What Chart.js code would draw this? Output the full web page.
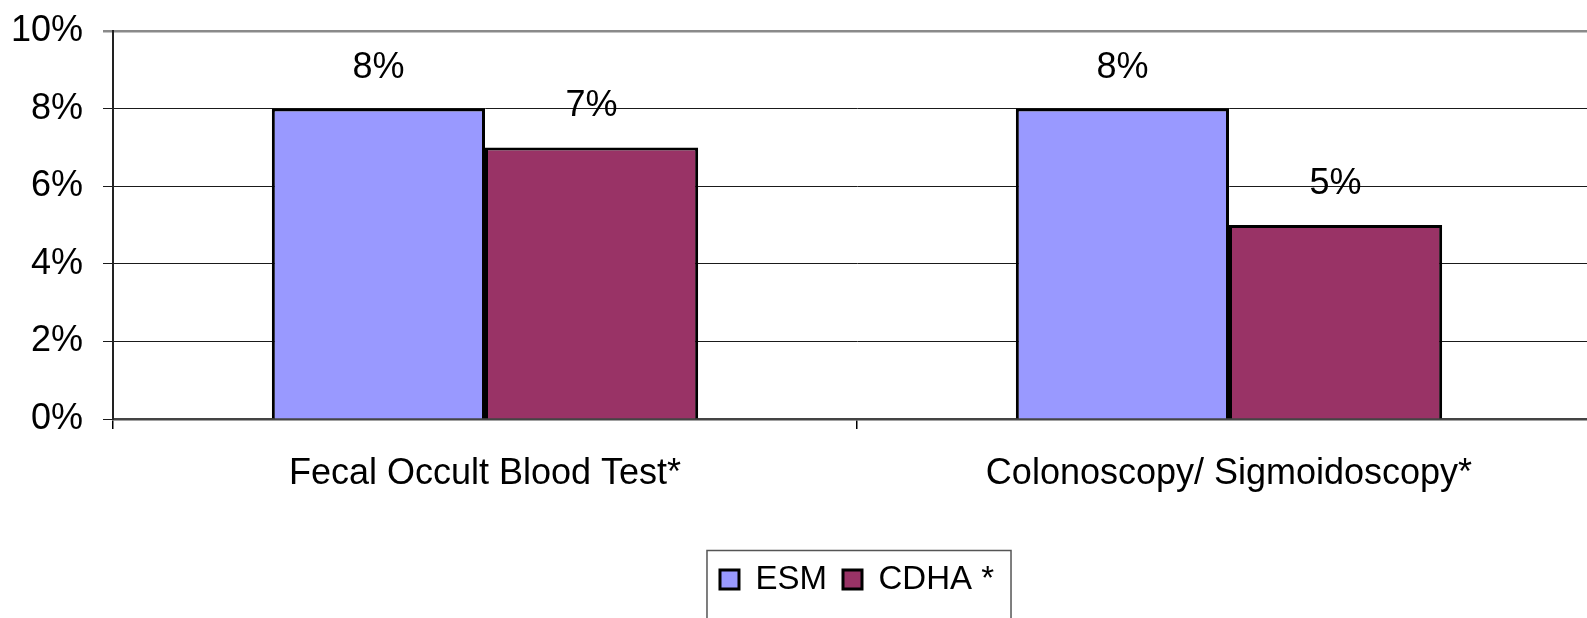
<!DOCTYPE html>
<html>
<head>
<meta charset="utf-8">
<script src="https://cdn.jsdelivr.net/npm/chart.js@4.4.1/dist/chart.umd.min.js"></script>
<style>
    html, body { margin: 0; padding: 0; background: #fff; overflow: hidden; }
    #wrap { width: 1587px; height: 618px; overflow: hidden; position: relative; }
    #chart { display: block; }
</style>
</head>
<body>
<div id="wrap"><canvas id="chart" width="1605" height="618"></canvas></div>
<script>
const categories = ['Fecal Occult Blood Test*', 'Colonoscopy/ Sigmoidoscopy*'];
const esmValues = [8, 8];
const cdhaValues = [7, 5];
const yTicks = [0, 2, 4, 6, 8, 10];

const COLORS = {
    esm: '#9999ff',
    cdha: '#993366',
    text: '#000000'
};

const FONT = "'Liberation Sans', Arial, sans-serif";

// value labels above each bar
const barLabels = {
    id: 'barLabels',
    afterDatasetsDraw(chart) {
        const ctx = chart.ctx;
        ctx.save();
        ctx.font = '36px ' + FONT;
        ctx.fillStyle = COLORS.text;
        ctx.textAlign = 'center';
        ctx.textBaseline = 'alphabetic';
        chart.data.datasets.forEach((ds, i) => {
            chart.getDatasetMeta(i).data.forEach((bar, j) => {
                ctx.fillText(ds.data[j] + '%', bar.x, bar.y - 31);
            });
        });
        ctx.restore();
    }
};

// frame around the legend (runs off the bottom edge like the original)
const legendFrame = {
    id: 'legendFrame',
    afterDraw(chart) {
        const boxes = chart.legend.legendHitBoxes;
        if (!boxes || !boxes.length) return;
        const left = Math.min(...boxes.map(b => b.left)) - 13;
        const right = Math.max(...boxes.map(b => b.left + b.width)) + 17;
        const top = boxes[0].top + boxes[0].height / 2 - 29;
        const ctx = chart.ctx;
        ctx.save();
        ctx.strokeStyle = '#555';
        ctx.lineWidth = 1.5;
        ctx.strokeRect(left, top, right - left, chart.height - top + 10);
        ctx.restore();
    }
};

new Chart(document.getElementById('chart'), {
    type: 'bar',
    data: {
        labels: categories,
        datasets: [
            {
                label: 'ESM',
                data: esmValues,
                backgroundColor: COLORS.esm,
                borderColor: '#000',
                borderWidth: 3,
                barPercentage: 1,
                categoryPercentage: 0.573
            },
            {
                label: 'CDHA *',
                data: cdhaValues,
                backgroundColor: COLORS.cdha,
                borderColor: '#000',
                borderWidth: 3,
                barPercentage: 1,
                categoryPercentage: 0.573
            }
        ]
    },
    options: {
        responsive: false,
        animation: false,
        devicePixelRatio: 1,
        layout: { padding: { top: 31, right: 4, left: 0, bottom: 12 } },
        plugins: {
            tooltip: { enabled: false },
            legend: {
                position: 'bottom',
                fullSize: false,
                labels: {
                    color: COLORS.text,
                    font: { family: FONT, size: 33 },
                    boxWidth: 19,
                    boxHeight: 19,
                    padding: 16
                }
            }
        },
        scales: {
            x: {
                grid: { drawOnChartArea: false, drawTicks: true, tickLength: 10, color: '#000', lineWidth: 1.5 },
                border: { color: '#444', width: 2.5 },
                ticks: { color: COLORS.text, font: { family: FONT, size: 36 }, padding: 23, maxRotation: 0 },
                afterFit(scale) { scale.height = 128; }
            },
            y: {
                min: 0,
                max: 10,
                afterBuildTicks(scale) { scale.ticks = yTicks.map(v => ({ value: v })); },
                grid: {
                    tickLength: 10,
                    color: c => c.tick.value === 10 ? '#8a8a8a' : '#1a1a1a',
                    lineWidth: c => c.tick.value === 10 ? 2.5 : 1
                },
                border: { color: '#222', width: 2 },
                ticks: { color: COLORS.text, font: { family: FONT, size: 36 }, padding: 20, callback: v => v + '%' },
                afterFit(scale) {
                    scale.width = 113;
                    scale.paddingTop = 22;
                    scale.paddingBottom = 22;
                }
            }
        }
    },
    plugins: [barLabels, legendFrame]
});
</script>
</body>
</html>
